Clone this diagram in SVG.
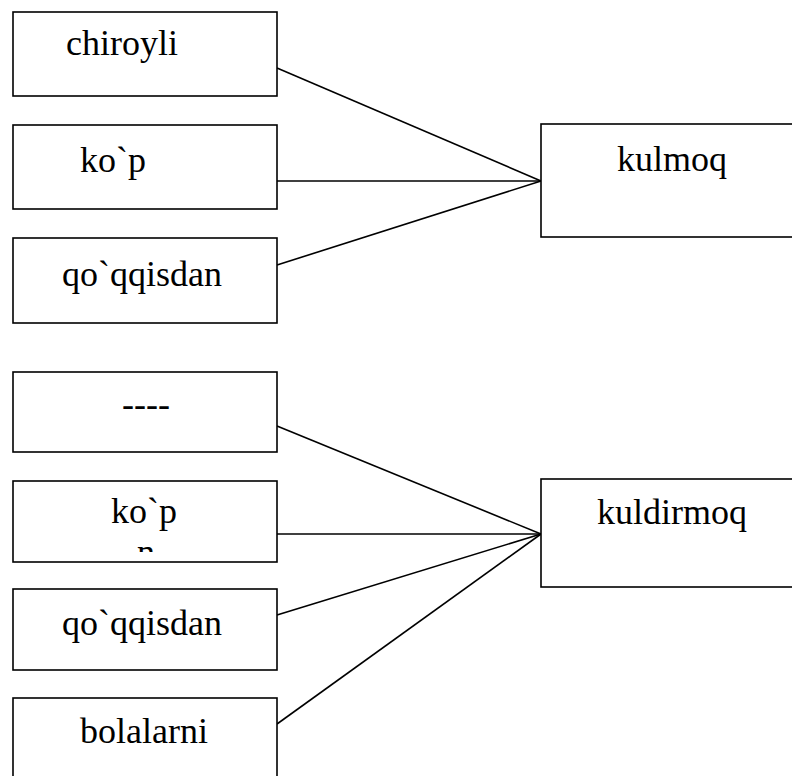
<svg xmlns="http://www.w3.org/2000/svg" width="792" height="776" viewBox="0 0 792 776">
<style>
.box{fill:#fff;stroke:#000;stroke-width:1.6}
.t{font-family:"Liberation Serif","Times New Roman",serif;font-size:36px;fill:#000}
.c{stroke:#000;stroke-width:1.6;fill:none}
</style>
<defs>
<clipPath id="clip5"><rect x="13" y="481" width="264" height="71"/></clipPath>
</defs>
<rect width="792" height="776" fill="#fff"/>
<g id="connectors">
<line class="c" x1="277" y1="68" x2="541" y2="181"/>
<line class="c" x1="277" y1="181" x2="541" y2="181"/>
<line class="c" x1="277" y1="265" x2="541" y2="181"/>
<line class="c" x1="277" y1="426" x2="541" y2="534"/>
<line class="c" x1="277" y1="534" x2="541" y2="534"/>
<line class="c" x1="277" y1="615" x2="541" y2="534"/>
<line class="c" x1="277" y1="724" x2="541" y2="534"/>
</g>
<g id="chiroyli"><rect class="box" x="13" y="12" width="264" height="84"/><text class="t" x="66" y="55">chiroyli</text></g>
<g id="kop1"><rect class="box" x="13" y="125" width="264" height="84"/><text class="t" x="80" y="172">ko`p</text></g>
<g id="qoqqisdan1"><rect class="box" x="13" y="238" width="264" height="85"/><text class="t" x="62" y="286">qo`qqisdan</text></g>
<g id="kulmoq"><rect class="box" x="541" y="124" width="300" height="113"/><text class="t" x="617" y="171">kulmoq</text></g>
<g id="dashes"><rect class="box" x="13" y="372" width="264" height="80"/><text class="t" x="122" y="416">----</text></g>
<g id="kop2"><rect class="box" x="13" y="481" width="264" height="81"/><text class="t" x="111" y="523">ko`p</text><text class="t" x="137" y="564" clip-path="url(#clip5)">n</text></g>
<g id="qoqqisdan2"><rect class="box" x="13" y="589" width="264" height="81"/><text class="t" x="62" y="635">qo`qqisdan</text></g>
<g id="bolalarni"><rect class="box" x="13" y="698" width="264" height="90"/><text class="t" x="80" y="743">bolalarni</text></g>
<g id="kuldirmoq"><rect class="box" x="541" y="479" width="300" height="108"/><text class="t" x="597" y="524">kuldirmoq</text></g>
</svg>
